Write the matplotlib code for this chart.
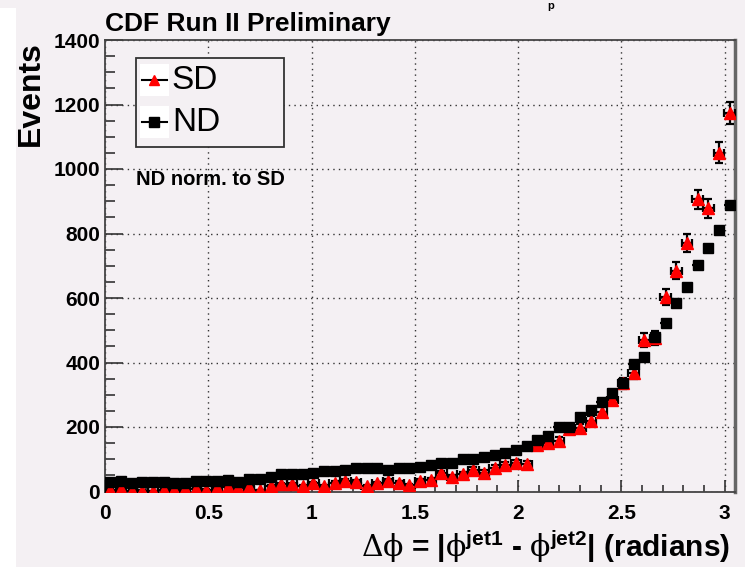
import matplotlib
matplotlib.use('Agg')
import matplotlib.pyplot as plt
import numpy as np
from matplotlib.patches import Rectangle
from matplotlib.ticker import MultipleLocator

plt.rcParams['font.family'] = ['Liberation Sans', 'DejaVu Sans']
plt.rcParams['mathtext.fontset'] = 'custom'
plt.rcParams['mathtext.rm'] = 'DejaVu Serif'
plt.rcParams['mathtext.it'] = 'DejaVu Serif'
plt.rcParams['mathtext.bf'] = 'Liberation Sans:bold'

# delta phi histogram, 59 bins from 0 to 3.05
bin_edges = np.linspace(0, 3.05, 60)
sd_counts = [5, 7, 2, 3, 1, 5, 5, 7, 7, 5,
             10, 13, 10, 15, 4, 16, 22, 22, 17, 25,
             17, 27, 34, 30, 17, 25, 34, 27, 20, 34,
             36, 56, 44, 54, 67, 58, 73, 82, 89, 86,
             144, 151, 156, 195, 196, 219, 248, 284, 335, 368,
             470, 476, 602, 685, 771, 906, 878, 1051, 1173]
nd_counts = [30, 33, 26, 30, 30, 30, 26, 26, 33, 33,
             33, 36, 30, 38, 38, 46, 54, 54, 54, 58,
             64, 64, 66, 73, 72, 73, 67, 73, 73, 76,
             82, 87, 87, 100, 100, 106, 112, 118, 129, 140,
             160, 172, 199, 201, 230, 253, 278, 304, 337, 395,
             418, 480, 521, 583, 635, 702, 754, 811, 888]
x_ticks = [0, 0.5, 1, 1.5, 2, 2.5, 3]
x_tick_labels = ['0', '0.5', '1', '1.5', '2', '2.5', '3']
y_ticks = [0, 200, 400, 600, 800, 1000, 1200, 1400]

centers = 0.5 * (bin_edges[:-1] + bin_edges[1:])
half_w = 0.5 * (bin_edges[1] - bin_edges[0])
sd = np.array(sd_counts, dtype=float)
nd = np.array(nd_counts, dtype=float)

bg = '#f4f0f3'
fig = plt.figure(figsize=(7.45, 5.67), dpi=100, facecolor=bg)
ax = fig.add_axes([105 / 745, 75.5 / 567, 630 / 745, 451.5 / 567], facecolor=bg)

# white strip on the left edge of the picture
fig.patches.append(Rectangle((0, 0), 16 / 745, 559 / 567, transform=fig.transFigure,
                             facecolor='white', edgecolor='none', zorder=0))

ax.errorbar(centers, sd, yerr=np.sqrt(sd), xerr=half_w, fmt='^', color='red',
            ms=8, mec='red', ecolor='black', elinewidth=1.6, capsize=3,
            capthick=1.6, zorder=3)
ax.errorbar(centers, nd, xerr=half_w, fmt='s', color='black', ms=7.8,
            ecolor='black', elinewidth=1.6, capsize=0, zorder=4)

ax.set_xlim(0, 3.05)
ax.set_ylim(0, 1400)
ax.set_xticks(x_ticks)
ax.set_xticklabels(x_tick_labels)
ax.set_yticks(y_ticks)
ax.xaxis.set_minor_locator(MultipleLocator(0.1))
ax.yaxis.set_minor_locator(MultipleLocator(50))
ax.tick_params(axis='both', which='both', direction='in', top=False, right=False,
               color='#333333')
ax.tick_params(axis='y', which='major', length=13, width=1.2, pad=3.5, labelsize=15)
ax.tick_params(axis='y', which='minor', length=7, width=1.2)
ax.tick_params(axis='x', which='major', length=9, width=1.2, pad=9, labelsize=15)
ax.tick_params(axis='x', which='minor', length=5, width=1.2)
for lab in ax.get_xticklabels() + ax.get_yticklabels():
    lab.set_fontweight('bold')
ax.grid(True, which='major', linestyle=(0, (1, 3)), color='#333333', linewidth=1)

for side in ['left', 'bottom', 'top']:
    ax.spines[side].set_color('#444444')
    ax.spines[side].set_linewidth(1.3)
ax.spines['right'].set_color('#666666')
ax.spines['right'].set_linewidth(2.5)

# legend box
ax.add_patch(Rectangle((0.049, 0.763), 0.235, 0.197, transform=ax.transAxes,
                       facecolor=bg, edgecolor='#333333', linewidth=1.3, zorder=5))
for yy, mk, col, name in [(0.911, '^', 'red', 'SD'), (0.818, 's', 'black', 'ND')]:
    ax.add_patch(Rectangle((0.056, yy - 0.035), 0.045, 0.07, transform=ax.transAxes,
                           facecolor='white', edgecolor='none', zorder=6))
    ax.plot([0.059, 0.098], [yy, yy], color='black', lw=1.5, transform=ax.transAxes,
            zorder=7, clip_on=False)
    ax.plot([0.0785], [yy], marker=mk, color=col, ms=7.5, transform=ax.transAxes,
            zorder=8, clip_on=False)
    ax.text(0.106, yy, name, transform=ax.transAxes, fontsize=24, va='center',
            ha='left', zorder=8)

ax.text(0.049, 0.690, 'ND norm. to SD', transform=ax.transAxes, fontsize=14.5,
        fontweight='bold', va='center', ha='left')

fig.text(105 / 745, (567 - 31.5) / 567, 'CDF Run II Preliminary', fontsize=19,
         fontweight='bold', ha='left', va='baseline')
fig.text(31 / 745, (567 - 41) / 567, 'Events', fontsize=23, fontweight='bold',
         rotation=90, ha='center', va='top')
fig.text(730 / 745, (567 - 557) / 567,
         r'$\mathrm{\Delta\phi}$ = |$\mathrm{\phi}^{\mathbf{jet1}}$ - '
         r'$\mathrm{\phi}^{\mathbf{jet2}}$| (radians)',
         fontsize=21.5, fontweight='bold', ha='right', va='baseline')
fig.text(547 / 745, (567 - 1) / 567, 'p', fontsize=8, fontweight='bold',
         ha='left', va='top')

fig.savefig('out.png', dpi=100, facecolor=bg)
